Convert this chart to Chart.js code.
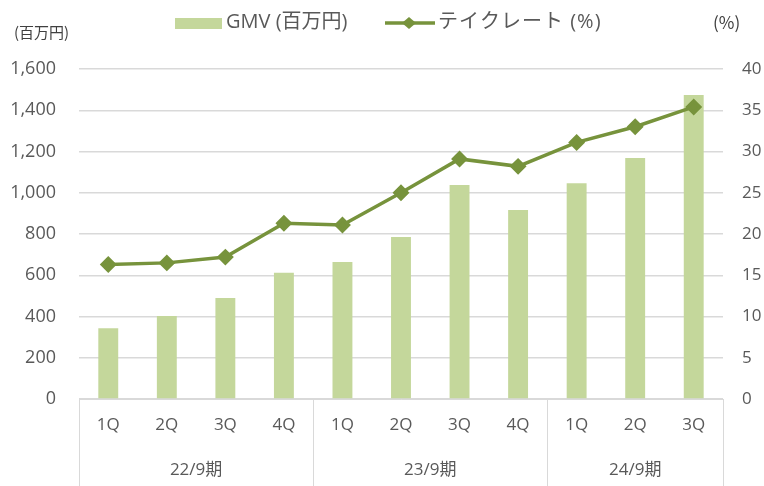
<!DOCTYPE html>
<html>
<head>
<meta charset="utf-8">
<script src="https://cdn.jsdelivr.net/npm/chart.js@4"></script>
<style>
  html, body { margin: 0; padding: 0; background: #fff; }
  #wrap { width: 764px; height: 486px; position: relative; }
</style>
</head>
<body>
<div id="wrap"><canvas id="gmvChart" width="764" height="486"></canvas></div>
<script>
// データ
const quarters = ['1Q', '2Q', '3Q', '4Q', '1Q', '2Q', '3Q', '4Q', '1Q', '2Q', '3Q'];
const fiscalYears = ['22/9期', '23/9期', '24/9期'];
const yearSpans = [4, 4, 3]; // 各期の四半期数
const gmv = [343, 402, 490, 612, 664, 785, 1038, 916, 1046, 1168, 1474];
const takeRate = [16.3, 16.5, 17.2, 21.3, 21.1, 25.0, 29.1, 28.2, 31.1, 33.0, 35.4];
const leftTicks = [0, 200, 400, 600, 800, 1000, 1200, 1400, 1600];
const rightTicks = [0, 5, 10, 15, 20, 25, 30, 35, 40];

const barColor = '#c4d79b';
const lineColor = '#77933c';
const textColor = '#595959';
const gridColor = '#d9d9d9';
const fontFamily = '"Open Sans", "Noto Sans CJK JP", sans-serif';

// 凡例・単位・期の区切りを描くプラグイン
const extrasPlugin = {
    id: 'extras',
    afterDraw(chart) {
        const ctx = chart.ctx;
        const x = chart.scales.x;
        const area = chart.chartArea;
        ctx.save();

        // 単位
        ctx.fillStyle = '#404040';
        ctx.font = '15px "Noto Sans CJK JP", sans-serif';
        ctx.textBaseline = 'middle';
        ctx.textAlign = 'left';
        ctx.fillText('(百万円)', 14, 32);
        ctx.font = '17px "Noto Sans CJK JP", sans-serif';
        ctx.fillText('(%)', 713, 23);

        // 凡例
        ctx.font = '20px ' + fontFamily;
        ctx.fillStyle = barColor;
        ctx.fillRect(175, 18, 47, 11);
        ctx.fillStyle = textColor;
        ctx.fillText('GMV (百万円)', 226, 22);

        ctx.strokeStyle = lineColor;
        ctx.lineWidth = 3.5;
        ctx.beginPath();
        ctx.moveTo(385, 23);
        ctx.lineTo(435, 23);
        ctx.stroke();
        ctx.fillStyle = lineColor;
        ctx.beginPath();
        ctx.moveTo(409, 17);
        ctx.lineTo(416, 23);
        ctx.lineTo(409, 29);
        ctx.lineTo(402, 23);
        ctx.closePath();
        ctx.fill();
        ctx.fillStyle = textColor;
        ctx.letterSpacing = '1px';
        ctx.fillText('テイクレート (%)', 438, 22);
        ctx.letterSpacing = '0px';

        // 期の区切り線とラベル
        ctx.strokeStyle = gridColor;
        ctx.lineWidth = 1;
        const half = (x.getPixelForValue(1) - x.getPixelForValue(0)) / 2;
        let start = 0;
        const edges = [area.left];
        fiscalYears.forEach((label, i) => {
            const end = start + yearSpans[i] - 1;
            const x0 = x.getPixelForValue(start) - half;
            const x1 = x.getPixelForValue(end) + half;
            edges.push(x1);
            ctx.fillStyle = textColor;
            ctx.font = '17px ' + fontFamily;
            ctx.textAlign = 'center';
            ctx.fillText(label, (x0 + x1) / 2, 470);
            start = end + 1;
        });
        edges.forEach(px => {
            ctx.beginPath();
            ctx.moveTo(Math.round(px) + 0.5, area.bottom);
            ctx.lineTo(Math.round(px) + 0.5, chart.height);
            ctx.stroke();
        });
        ctx.restore();
    }
};

new Chart(document.getElementById('gmvChart').getContext('2d'), {
    data: {
        labels: quarters,
        datasets: [
            {
                type: 'line',
                label: 'テイクレート (%)',
                data: takeRate,
                yAxisID: 'y1',
                borderColor: lineColor,
                backgroundColor: lineColor,
                borderWidth: 3.5,
                pointStyle: 'rectRot',
                pointRadius: 6,
                pointHoverRadius: 6,
                tension: 0,
                order: 0
            },
            {
                type: 'bar',
                label: 'GMV (百万円)',
                data: gmv,
                yAxisID: 'y',
                backgroundColor: barColor,
                categoryPercentage: 1,
                barPercentage: 0.34,
                order: 1
            }
        ]
    },
    options: {
        responsive: false,
        animation: false,
        layout: { padding: { top: 69, left: 0, right: 0, bottom: 0 } },
        plugins: {
            legend: { display: false },
            tooltip: { enabled: false }
        },
        scales: {
            x: {
                grid: { display: false, drawTicks: false },
                border: { display: true, color: gridColor, width: 1 },
                ticks: {
                    color: textColor,
                    font: { family: fontFamily, size: 17 },
                    padding: 16,
                    maxRotation: 0
                },
                afterFit(scale) { scale.height = 87; }
            },
            y: {
                position: 'left',
                min: 0,
                max: 1600,
                afterBuildTicks(scale) { scale.ticks = leftTicks.map(v => ({ value: v })); },
                grid: { color: gridColor, lineWidth: 1.5, drawTicks: false },
                border: { display: false },
                ticks: {
                    color: textColor,
                    font: { family: fontFamily, size: 18 },
                    padding: 23,
                    callback: v => v.toLocaleString('en-US')
                },
                afterFit(scale) { scale.width = 79; }
            },
            y1: {
                position: 'right',
                min: 0,
                max: 40,
                afterBuildTicks(scale) { scale.ticks = rightTicks.map(v => ({ value: v })); },
                grid: { display: false, drawTicks: false },
                border: { display: false },
                ticks: {
                    color: textColor,
                    font: { family: fontFamily, size: 17 },
                    padding: 19
                },
                afterFit(scale) { scale.width = 41; }
            }
        }
    },
    plugins: [extrasPlugin]
});
</script>
</body>
</html>
